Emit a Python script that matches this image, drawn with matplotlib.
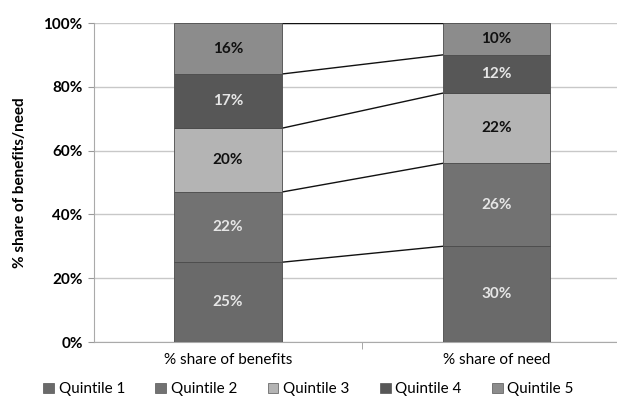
import matplotlib.pyplot as plt
from matplotlib.patches import Patch

categories = ['% share of benefits', '% share of need']
series = ['Quintile 1', 'Quintile 2', 'Quintile 3', 'Quintile 4', 'Quintile 5']
values = {
    'Quintile 1': [25, 30],
    'Quintile 2': [22, 26],
    'Quintile 3': [20, 22],
    'Quintile 4': [17, 12],
    'Quintile 5': [16, 10],
}
colors = ['#6a6a6a', '#727272', '#b4b4b4', '#575757', '#8c8c8c']
text_colors = ['#e6e6e6', '#e6e6e6', '#111111', '#e6e6e6', '#111111']

plt.rcParams['font.family'] = ['Lato', 'DejaVu Sans']

fig = plt.figure(figsize=(6.17, 3.98), dpi=100)
ax = fig.add_axes([0.152, 0.1407, 0.848, 0.8015])

x = [0, 1]
width = 0.4
bottoms = [0, 0]
tops = []
for i, s in enumerate(series):
    v = values[s]
    ax.bar(x, v, width, bottom=bottoms, color=colors[i], edgecolor='#4a4a4a',
           linewidth=0.6, zorder=3)
    for j in range(2):
        ax.text(x[j], bottoms[j] + v[j] / 2, f'{v[j]}%', ha='center', va='center',
                fontsize=11, fontweight='bold', color=text_colors[i], zorder=4)
    bottoms = [bottoms[k] + v[k] for k in range(2)]
    tops.append(list(bottoms))

# series lines between the stacks
for t in tops:
    ax.plot([x[0] + width / 2, x[1] - width / 2], t, color='#111111', lw=1.0, zorder=2)

ax.set_xlim(-0.5, 1.45)
ax.set_ylim(0, 100)
ax.set_yticks([0, 20, 40, 60, 80, 100])
ax.set_yticklabels([f'{t}%' for t in [0, 20, 40, 60, 80, 100]],
                   fontsize=11, fontweight='bold')
ax.set_xticks(x)
ax.set_xticklabels(categories, fontsize=11)
ax.set_xticks([0.5], minor=True)
ax.tick_params(axis='x', which='major', length=0, pad=8)
ax.tick_params(axis='x', which='minor', length=5, color='#999999')
ax.tick_params(axis='y', length=4, color='#999999', pad=4)
ax.yaxis.grid(True, color='#c8c8c8', lw=1.0, zorder=0)
ax.set_axisbelow(True)
for side in ['top', 'right']:
    ax.spines[side].set_visible(False)
ax.spines['left'].set_color('#aaaaaa')
ax.spines['bottom'].set_color('#aaaaaa')

ax.set_ylabel('% share of benefits/need', fontsize=11, fontweight='bold', labelpad=12)

handles = [Patch(facecolor=colors[i], edgecolor='#555555', linewidth=0.5) for i in range(5)]
fig.legend(handles, series, loc='center', bbox_to_anchor=(0.5, 0.022), ncol=5,
           frameon=False, fontsize=11, handlelength=0.7, handleheight=0.7,
           handletextpad=0.3, columnspacing=2.0)

fig.savefig('out.png', dpi=100)
